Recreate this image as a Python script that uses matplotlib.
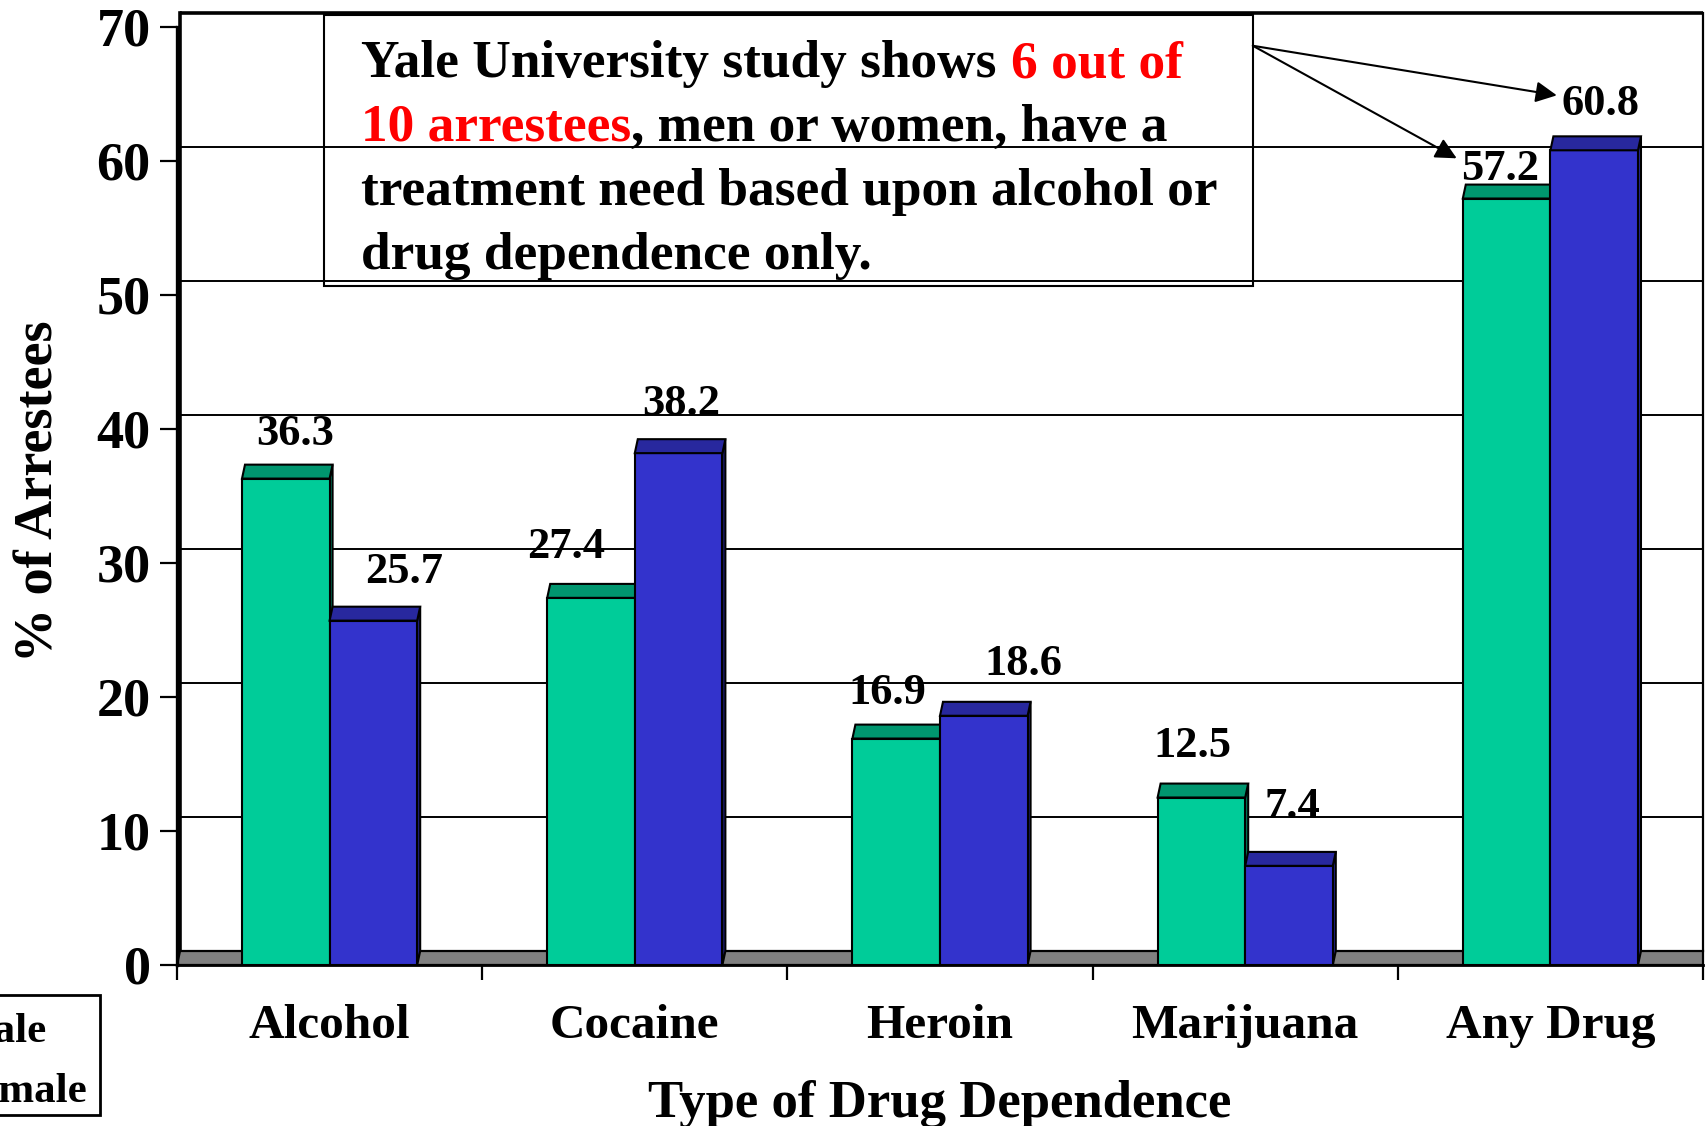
import matplotlib
matplotlib.use("Agg")
import matplotlib.pyplot as plt
from matplotlib.patches import Polygon, Rectangle

# ---------------- data ----------------
categories = ["Alcohol", "Cocaine", "Heroin", "Marijuana", "Any Drug"]
male = [36.3, 27.4, 16.9, 12.5, 57.2]
female = [25.7, 38.2, 18.6, 7.4, 60.8]
series_names = ["Male", "Female"]
y_ticks = [0, 10, 20, 30, 40, 50, 60, 70]
y_label = "% of Arrestees"
x_label = "Type of Drug Dependence"

# ---------------- style ----------------
plt.rcParams["font.family"] = ["Liberation Serif", "DejaVu Serif"]
plt.rcParams["font.weight"] = "bold"

W, H = 1706, 1126
X0, X1 = 177, 1703      # pixel positions of x=0 and x=5
Y0 = 965                # pixel (from top) of y=0
PPU = 13.4              # pixels per y unit
YMAX = 71.2

face_cols = ["#00CC99", "#3333CC"]
cap_cols = ["#00966F", "#28289E"]
DX, DY = 0.0098, 1.04   # pseudo-3D depth offset (data units)
BAR_W = 0.287
BAR_START = 0.213

# manual label nudges (as in original slide)
lab_dx = [[0.03, -0.08, -0.03, -0.03, -0.02],
          [0.10, 0.01, 0.13, 0.01, 0.02]]
lab_dy = [[2.5, 3.0, 2.55, 3.05, 1.35],
          [2.8, 2.85, 3.05, 3.55, 2.65]]

fig = plt.figure(figsize=(W / 100, H / 100), dpi=100)
ax = fig.add_axes([X0 / W, (H - Y0) / H, (X1 - X0) / W, YMAX * PPU / H])
ax.set_xlim(0, 5)
ax.set_ylim(0, YMAX)
ax.patch.set_alpha(0)

# back wall gridlines
for v in y_ticks[1:]:
    lw = 2.6 if v == y_ticks[-1] else 1.4
    ax.plot([DX, 5], [v + DY, v + DY], color="black", lw=lw, zorder=1,
            clip_on=False, solid_capstyle="butt")
ax.plot([DX, DX], [DY, y_ticks[-1] + DY], color="black", lw=2.6, zorder=1,
        clip_on=False)
ax.plot([5, 5], [DY, y_ticks[-1] + DY], color="black", lw=1.6, zorder=1,
        clip_on=False)

# floor
ax.add_patch(Polygon([(0, 0), (5, 0), (5, DY), (DX, DY)], closed=True,
                     facecolor="#808080", edgecolor="black", lw=1.6,
                     zorder=2, clip_on=False))

# bars
for s, vals in enumerate([male, female]):
    for i, v in enumerate(vals):
        xl = i + BAR_START + s * BAR_W
        xr = xl + BAR_W
        ax.add_patch(Polygon([(xr, 0), (xr + DX, DY), (xr + DX, v + DY), (xr, v)],
                             closed=True, facecolor=cap_cols[s],
                             edgecolor="black", lw=1.5, zorder=3 + s))
        ax.add_patch(Rectangle((xl, 0), BAR_W, v, facecolor=face_cols[s],
                               edgecolor="black", lw=1.5, zorder=3 + s))
        ax.add_patch(Polygon([(xl, v), (xr, v), (xr + DX, v + DY), (xl + DX, v + DY)],
                             closed=True, facecolor=cap_cols[s],
                             edgecolor="black", lw=1.5, zorder=3 + s))
        ax.text(xl + BAR_W / 2 + lab_dx[s][i], v + lab_dy[s][i], f"{v}",
                ha="center", va="baseline", fontsize=32, fontweight="bold",
                zorder=6)

# axes / ticks
for sp in ["top", "right"]:
    ax.spines[sp].set_visible(False)
ax.spines["left"].set_bounds(0, 70)
ax.spines["left"].set_linewidth(2.4)
ax.spines["bottom"].set_bounds(0, 5)
ax.spines["bottom"].set_linewidth(2.0)
ax.spines["left"].set_zorder(2.5)
ax.spines["bottom"].set_zorder(2.5)
ax.set_yticks(y_ticks)
ax.set_yticklabels([str(t) for t in y_ticks])
ax.tick_params(axis="y", length=12, width=1.6, pad=7, labelsize=39,
               direction="out")
ax.set_xticks(range(6))
ax.set_xticklabels([])
ax.tick_params(axis="x", length=10.5, width=1.6, direction="out")
for lab in ax.get_yticklabels():
    lab.set_fontweight("bold")

xt = ax.get_xaxis_transform()
for i, c in enumerate(categories):
    ax.text(i + 0.5, -(1038 - Y0) / (YMAX * PPU), c, transform=xt,
            ha="center", va="baseline", fontsize=35.5, fontweight="bold")
ax.text(2.5, -(1117 - Y0) / (YMAX * PPU), x_label, transform=xt,
        ha="center", va="baseline", fontsize=38, fontweight="bold")

fig.text(53 / W, 1 - 491 / H, y_label, rotation=90, rotation_mode="anchor",
         ha="center", va="baseline", fontsize=39, fontweight="bold")

# annotation box
ax.add_patch(Rectangle((0.482, 50.7), 3.525 - 0.482, 70.9 - 50.7, fill=False,
                       edgecolor="black", lw=1.5, zorder=7, clip_on=False))

FS = 38.4
SP = 15  # pixel width of a space
def fp(x, y):
    return (x / W, 1 - y / H)

t1 = fig.text(*fp(361, 77), "Yale University study shows", fontsize=FS,
              va="baseline", ha="left", color="black")
ax.annotate("6 out of", xy=(1, 0), xycoords=t1, xytext=(SP, 0),
            textcoords="offset pixels", va="bottom", ha="left",
            fontsize=FS, color="#FF0000", fontweight="bold")
t2 = fig.text(*fp(361, 141), "10 arrestees", fontsize=FS, va="baseline",
              ha="left", color="#FF0000")
ax.annotate(", men or women, have a", xy=(1, 0), xycoords=t2,
            va="bottom", ha="left", fontsize=FS, color="black",
            fontweight="bold")
fig.text(*fp(361, 205), "treatment need based upon alcohol or", fontsize=FS,
         va="baseline", ha="left")
fig.text(*fp(361, 269), "drug dependence only.", fontsize=FS,
         va="baseline", ha="left")

# arrows from box to the "Any Drug" labels
arr = dict(arrowstyle="-|>", color="black", lw=1.5, mutation_scale=32,
           shrinkA=0, shrinkB=0)
ax.annotate("", xy=(4.521, 64.9), xytext=(3.525, 68.6), arrowprops=arr,
            annotation_clip=False, zorder=8)
ax.annotate("", xy=(4.193, 60.2), xytext=(3.525, 68.6), arrowprops=arr,
            annotation_clip=False, zorder=8)

# legend (partially outside the canvas, as in the original)
fig.patches.append(Rectangle(fp(-220, 1115), 320 / W, 120 / H,
                             transform=fig.transFigure, fill=False,
                             edgecolor="black", lw=2))
for k, (name, yb) in enumerate(zip(series_names, [1042, 1102])):
    fig.patches.append(Rectangle(fp(-100, yb), 30 / W, 30 / H,
                                 transform=fig.transFigure,
                                 facecolor=face_cols[k], edgecolor="black"))
    fig.text(*fp(-47, yb), name, fontsize=31, va="baseline", ha="left")

fig.savefig("out.png", dpi=100)
